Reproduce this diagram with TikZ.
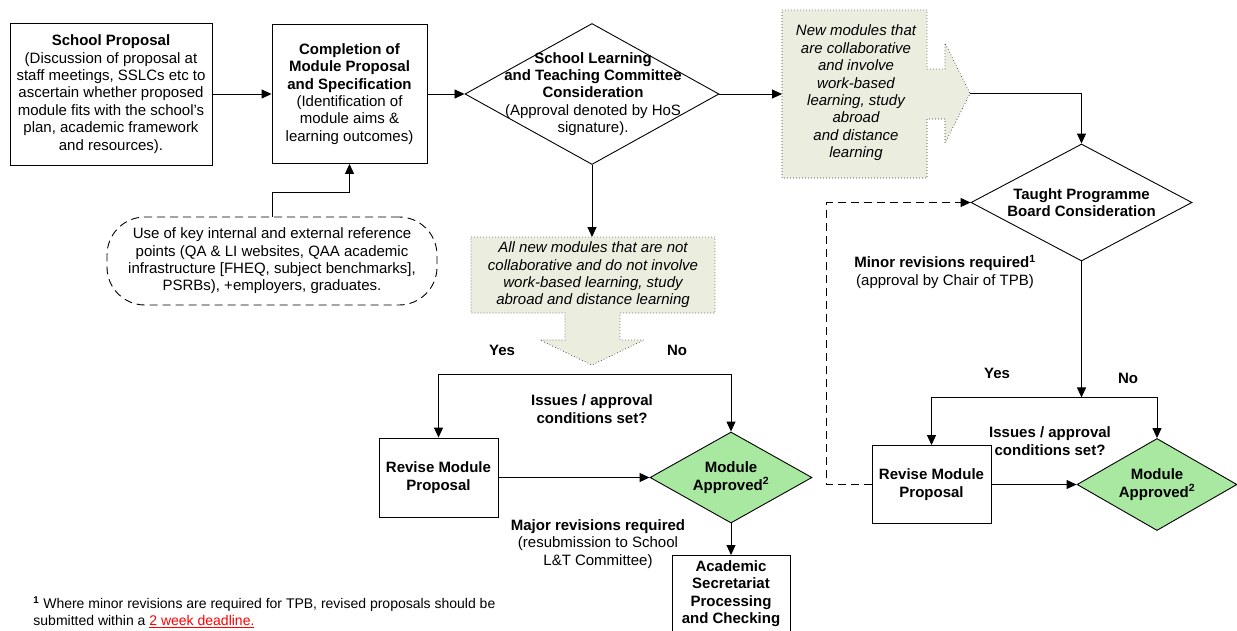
\documentclass[tikz,border=0pt]{standalone}
\usepackage{fontspec}
\setmainfont{Liberation Sans}
\usepackage{xcolor}
\usetikzlibrary{arrows.meta, positioning, shapes.geometric}

\definecolor{hintfill}{HTML}{EBEEDF}
\definecolor{okgreen}{HTML}{A8E8A0}

\begin{document}
\begin{tikzpicture}[x=1pt, y=-1pt, line width=0.9pt, >={Triangle[length=10pt, width=9pt]},
    font=\fontsize{15}{17.4}\selectfont,
    procbox/.style={rectangle, draw, align=center, inner sep=3pt},
    decision/.style={diamond, draw, inner sep=0pt},
    approved/.style={diamond, draw, fill=okgreen, inner sep=0pt},
    refbox/.style={rectangle, draw, dashed, dash pattern=on 8pt off 5pt, rounded corners=38pt, align=center},
    hint/.style={fill=hintfill, draw=black!80, line width=0.7pt, dash pattern=on 0.7pt off 2.3pt},
    lbl/.style={align=center, inner sep=0pt}]
    \clip (0,0) rectangle (1237,630);

    % boxes along the top
    \node[procbox, minimum width=202pt, minimum height=142pt] (school) at (111,94) {
        \textbf{School Proposal}\\
        (Discussion of proposal at\\
        staff meetings, SSLCs etc to\\
        ascertain whether proposed\\
        module fits with the school’s\\
        plan, academic framework\\
        and resources).
    };
    \node[procbox, minimum width=155pt, minimum height=139pt] (spec) at (349.5,94) {
        \textbf{Completion of}\\
        \textbf{Module Proposal}\\
        \textbf{and Specification}\\
        (Identification of\\
        module aims \&\\
        learning outcomes)
    };
    \node[refbox, minimum width=330pt, minimum height=88pt] (refpts) at (272,261) {
        Use of key internal and external reference\\
        points (QA \& LI websites, QAA academic\\
        infrastructure [FHEQ, subject benchmarks],\\
        PSRBs), +employers, graduates.
    };
    \node[decision, minimum width=254pt, minimum height=141pt] (ltc) at (592,94) {};
    \node[lbl] (ltctext) at (593,94) {
        \textbf{School Learning}\\
        \textbf{and Teaching Committee}\\
        \textbf{Consideration}\\
        (Approval denoted by HoS\\
        signature).
    };

    % shaded route notes
    \filldraw[hint] (782,10) -- (927,10) -- (927,69) -- (945,69) -- (945,43) -- (970,93.5)
        -- (945,143) -- (945,119) -- (927,119) -- (927,178) -- (782,178) -- cycle;
    \coordinate (collabin) at (782,94);
    \coordinate (collabtip) at (970,93.5);
    \node[lbl, font=\fontsize{15}{17.4}\selectfont\itshape] (collabtext) at (856,93) {
        New modules that\\are collaborative\\and involve\\work-based\\learning, study\\abroad\\and distance\\learning
    };
    \filldraw[hint] (471,237) -- (715,237) -- (715,313) -- (620,313) -- (620,340) -- (644,340)
        -- (592,365) -- (540,340) -- (565,340) -- (565,313) -- (471,313) -- cycle;
    \coordinate (alltop) at (592,237);
    \node[lbl, font=\fontsize{15}{17.4}\selectfont\itshape] (alltext) at (593,275) {
        All new modules that are not\\collaborative and do not involve\\work-based learning, study\\abroad and distance learning
    };

    % school route
    \node[procbox, minimum width=119pt, minimum height=79pt] (revise1) at (438.5,477.5) {
        \textbf{Revise Module}\\\textbf{Proposal}
    };
    \node[approved, minimum width=162pt, minimum height=91pt] (ok1) at (731,477.5) {};
    \node[lbl] (ok1text) at (ok1) {\textbf{Module}\\\textbf{Approved}\textsuperscript{\textbf{2}}};
    \node[procbox, anchor=north, minimum width=118pt, inner ysep=5pt] (acad) at (731,555) {
        \textbf{Academic}\\\textbf{Secretariat}\\\textbf{Processing}\\\textbf{and Checking}
    };

    % TPB route
    \node[decision, minimum width=221pt, minimum height=117pt] (tpb) at (1081.5,202.5) {};
    \node[lbl] (tpbtext) at (tpb) {\textbf{Taught Programme}\\\textbf{Board Consideration}};
    \node[procbox, minimum width=119pt, minimum height=78pt] (revise2) at (931.5,484.5) {
        \textbf{Revise Module}\\\textbf{Proposal}
    };
    \node[approved, minimum width=160pt, minimum height=92pt] (ok2) at (1157,484.5) {};
    \node[lbl] (ok2text) at (ok2) {\textbf{Module}\\\textbf{Approved}\textsuperscript{\textbf{2}}};

    % labels
    \node[lbl] (yes1) at (502,350) {\textbf{Yes}};
    \node[lbl] (no1) at (677,350) {\textbf{No}};
    \node[lbl] (issues1) at (592,409) {\textbf{Issues / approval}\\\textbf{conditions set?}};
    \node[lbl] (major) at (598,544) {\textbf{Major revisions required}\\(resubmission to School\\L\&T Committee)};
    \node[lbl] (yes2) at (997,373) {\textbf{Yes}};
    \node[lbl] (no2) at (1128,378) {\textbf{No}};
    \node[lbl] (issues2) at (1050,441) {\textbf{Issues / approval}\\\textbf{conditions set?}};
    \node[lbl] (minor) at (945,272) {\textbf{Minor revisions required}\textsuperscript{\textbf{1}}\\(approval by Chair of TPB)};
    \node[lbl, anchor=west, align=left, font=\fontsize{14}{17.4}\selectfont] (fnote) at (33,612) {
        \textsuperscript{\textbf{1}} Where minor revisions are required for TPB, revised proposals should be\\
        submitted within a \textcolor{red}{\underline{2 week deadline.}}
    };

    % connectors
    \draw[->] (school) -- (spec);
    \draw[->] (spec) -- (ltc);
    \draw[->] (refpts.north) -- ++(0,-24) -| (spec.south);
    \draw[->] (ltc) -- (collabin);
    \draw[->] (collabtip) -| (tpb.north);
    \draw[->] (ltc) -- (alltop);
    \draw[<->] (revise1.north) -- ++(0,-63) -| (ok1.north);
    \draw[->] (revise1) -- (ok1);
    \draw[->] (ok1) -- (acad);
    \draw[->] (tpb.south) -- ++(0,136) coordinate (split2);
    \draw[<->] (revise2.north) |- (split2) -| (ok2.north);
    \draw[->] (revise2) -- (ok2);
    \draw[->, dashed, dash pattern=on 8pt off 5pt] (revise2.west) -- ++(-45,0) |- (tpb.west);
\end{tikzpicture}
\end{document}
